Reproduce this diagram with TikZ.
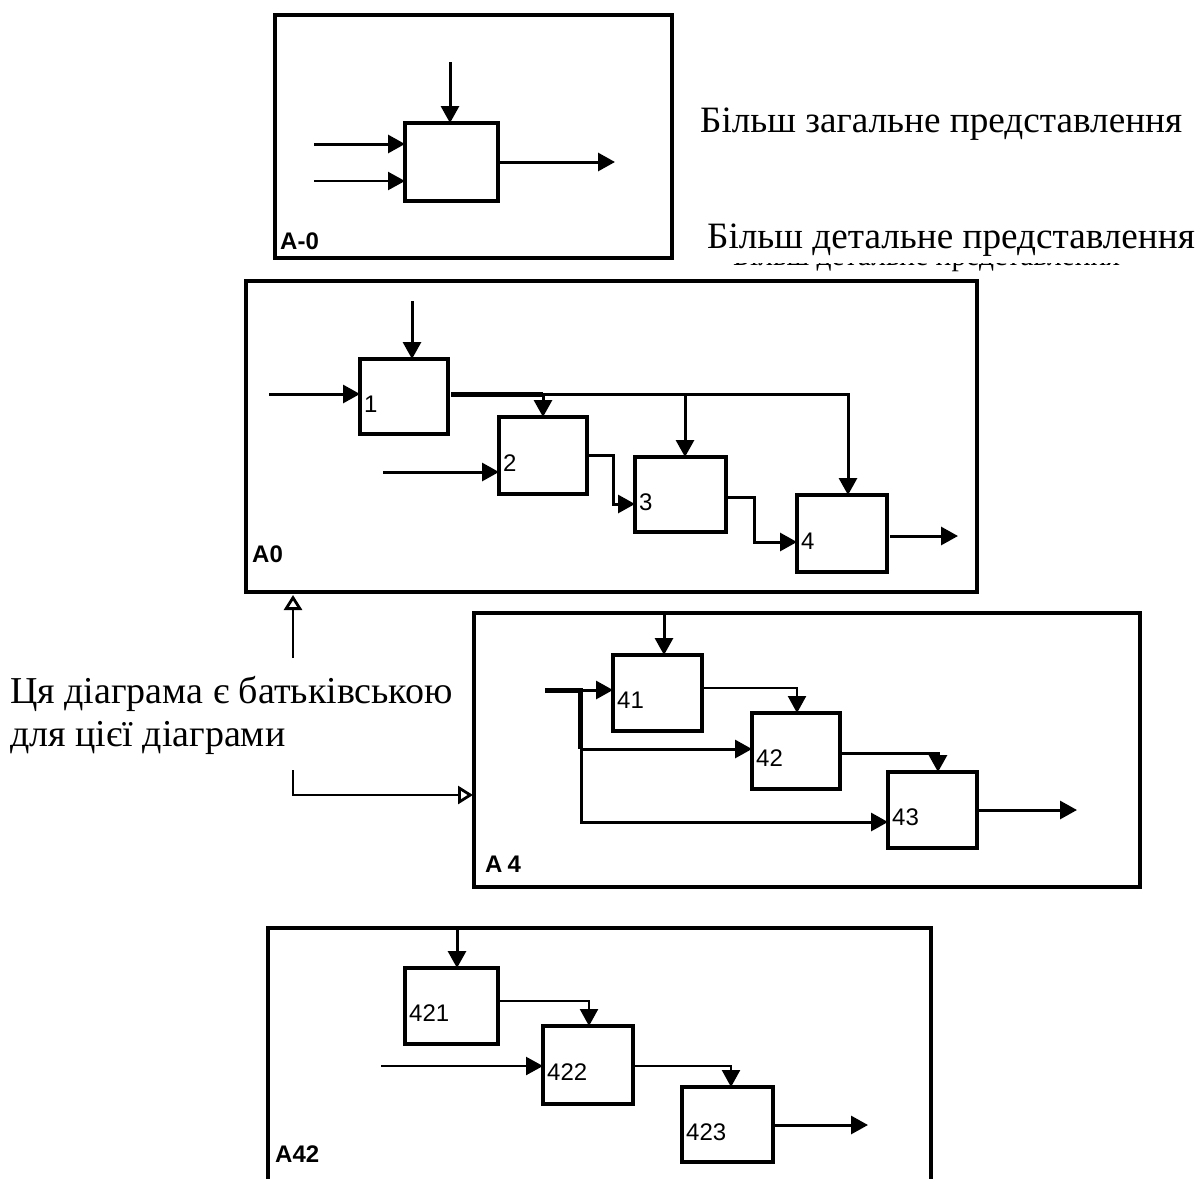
\documentclass[tikz,border=0pt]{standalone}
\usepackage{fontspec}
\setmainfont{Liberation Serif}
\newfontfamily\lblfont{Liberation Sans}
\usetikzlibrary{arrows.meta}

\begin{document}
\begin{tikzpicture}[x=1pt, y=-1pt,
  frame/.style={draw, line width=3.6pt, inner sep=0pt, outer sep=0pt, anchor=north west},
  func/.style={draw, line width=3.2pt, inner sep=0pt, outer sep=0pt, anchor=north west},
  flow/.style={line width=3pt, -{Triangle[length=17pt, width=18pt]}},
  flowthin/.style={line width=2.3pt, -{Triangle[length=17pt, width=18pt]}},
  bus/.style={line width=5pt},
  note/.style={line width=2.8pt, -{Triangle[open, length=15pt, width=18pt]}},
  num/.style={font=\lblfont\fontsize{24}{24}\selectfont, inner sep=0pt, anchor=base west},
  tag/.style={font=\lblfont\bfseries\fontsize{24}{24}\selectfont, inner sep=0pt, anchor=base west},
  txt/.style={font=\fontsize{38}{43}\selectfont, inner sep=0pt, anchor=base west},
  head/.style={font=\fontsize{37.2}{43}\selectfont, inner sep=0pt, anchor=base west}
]
\useasboundingbox (0,0) rectangle (1201,1178);

% ---------- context diagram A-0 ----------
\node[frame, minimum width=397pt, minimum height=243pt] (f0) at (275,15) {};
\node[func, minimum width=93pt, minimum height=78pt] (b0) at (405,123) {};
\node[tag] (l0) at (280,249) {A-0};
\coordinate (c0) at (450,62);
\coordinate (i0a) at (314,144);
\coordinate (i0b) at (314,181);
\coordinate (o0) at (615,162);
\draw[flow] (c0) -- (c0 |- b0.north);
\draw[flow] (i0a) -- (i0a -| b0.west);
\draw[flowthin] (i0b) -- (i0b -| b0.west);
\draw[flow, shorten <=2pt] (b0.east |- o0) -- (o0);

\node[head] (t1) at (700,132) {Більш загальне представлення};
\node[head] (t2) at (707,248) {Більш детальне представлення};
% faint remnant line of lettering under the second heading
\begin{scope}
  \clip (700,263) rectangle (1130,272);
  \node[head, font=\fontsize{29.5}{30}\selectfont] (t2b) at (733,265.5) {Більш детальне представлення};
\end{scope}

% ---------- decomposition A0 ----------
\node[frame, minimum width=731pt, minimum height=311pt] (f1) at (246,281) {};
\node[func, minimum width=88pt, minimum height=75pt] (b1) at (360,359) {};
\node[func, minimum width=88pt, minimum height=77pt] (b2) at (499,417) {};
\node[func, minimum width=91pt, minimum height=75pt] (b3) at (635,457) {};
\node[func, minimum width=90pt, minimum height=77pt] (b4) at (797,495) {};
\node[tag] (l1) at (252,562) {A0};
\foreach \b/\n in {b1/1, b2/2, b3/3, b4/4}
  \node[num] at ([xshift=4pt, yshift=-15.5pt]\b.west) {\n};

\coordinate (c1) at (412,301);
\coordinate (i1) at (269,394);
\coordinate (i2) at (383,472);
\coordinate (s1) at (543,394);
\coordinate (s2) at (685,394);
\coordinate (s3) at (848,394);
\draw[flow] (c1) -- (c1 |- b1.north);
\draw[flow] (i1) -- (i1 -| b1.west);
\draw[flow] (i2) -- (i2 -| b2.west);
\draw[bus, shorten <=3pt] (b1.east |- s1) -- (s1);
\draw[flow] (s1) -- (s3) -- (s3 |- b4.north);
\draw[flow] (s1) -- (s1 |- b2.north);
\draw[flow] (s2) -- (s2 |- b3.north);
\coordinate (k2) at (613,455);
\coordinate (k3) at (613,504);
\draw[flow, shorten <=2pt] (b2.east |- k2) -- (k2) -- (k3) -- (k3 -| b3.west);
\coordinate (k4) at (754,497);
\coordinate (k5) at (754,542);
\draw[flow, shorten <=2pt] (b3.east |- k4) -- (k4) -- (k5) -- (k5 -| b4.west);
\coordinate (o1) at (958,536);
\draw[flow, shorten <=3pt] (b4.east |- o1) -- (o1);

% ---------- decomposition A4 ----------
\node[frame, minimum width=666pt, minimum height=274pt] (f2) at (474,613) {};
\node[func, minimum width=89pt, minimum height=76pt] (b41) at (613,655) {};
\node[func, minimum width=88pt, minimum height=76pt] (b42) at (752,713) {};
\node[func, minimum width=89pt, minimum height=76pt] (b43) at (888,772) {};
\node[tag] (l2) at (485,872) {A\kern5pt 4};
\foreach \b/\n in {b41/41, b42/42, b43/43}
  \node[num] at ([xshift=4pt, yshift=-15.5pt]\b.west) {\n};

\coordinate (c41) at (664,613);
\draw[flow] (c41) -- (c41 |- b41.north);
\coordinate (i4) at (545,690);
\coordinate (j4) at (580,690);
\coordinate (j5) at (580,749);
\coordinate (j6) at (581,822);
\draw[bus] (i4) -- (j4) -- (j5);
\draw[flow] (j4) -- (j4 -| b41.west);
\draw[flow] (j5) -- (j5 -| b42.west);
\draw[flow] (j5 -| j6) -- (j6) -- (j6 -| b43.west);
\coordinate (k41) at (797,688);
\draw[flowthin, shorten <=2pt] (b41.east |- k41) -- (k41) -- (k41 |- b42.north);
\coordinate (k42) at (938,753);
\draw[flow, shorten <=2pt] (b42.east |- k42) -- (k42) -- (k42 |- b43.north);
\coordinate (o4) at (1077,810);
\draw[flow, shorten <=2pt] (b43.east |- o4) -- (o4);

% ---------- parent / child note ----------
\node[txt] (t3) at (10,703) {Ця діаграма є батьківською};
\node[txt] (t4) at (10,746) {для цієї діаграми};
\coordinate (p1) at (293,658);
\coordinate (p2) at (293,770);
\coordinate (p3) at (293,795);
\draw[note, shorten >=3pt] (p1) -- (p1 |- f1.south);
\draw[note, shorten >=1pt] (p2) -- (p3) -- (p3 -| f2.west);

% ---------- decomposition A42 ----------
\node[frame, minimum width=663pt, minimum height=300pt] (f3) at (268,928) {};
\node[func, minimum width=93pt, minimum height=76pt] (b421) at (405,968) {};
\node[func, minimum width=90pt, minimum height=78pt] (b422) at (543,1026) {};
\node[func, minimum width=91pt, minimum height=75pt] (b423) at (682,1087) {};
\node[tag] (l3) at (275,1162) {A42};
\foreach \b/\n in {b421/421, b422/422, b423/423}
  \node[num] at ([xshift=4pt, yshift=-15.5pt]\b.west) {\n};

\coordinate (c42) at (457,928);
\draw[flow] (c42) -- (c42 |- b421.north);
\coordinate (k421) at (589,1001);
\draw[flowthin, shorten <=2pt] (b421.east |- k421) -- (k421) -- (k421 |- b422.north);
\coordinate (i42) at (381,1066);
\draw[flowthin] (i42) -- (i42 -| b422.west);
\coordinate (k422) at (731,1066);
\draw[flowthin] (b422.east |- k422) -- (k422) -- (k422 |- b423.north);
\coordinate (o42) at (868,1125);
\draw[flow, shorten <=2pt] (b423.east |- o42) -- (o42);
\end{tikzpicture}
\end{document}
